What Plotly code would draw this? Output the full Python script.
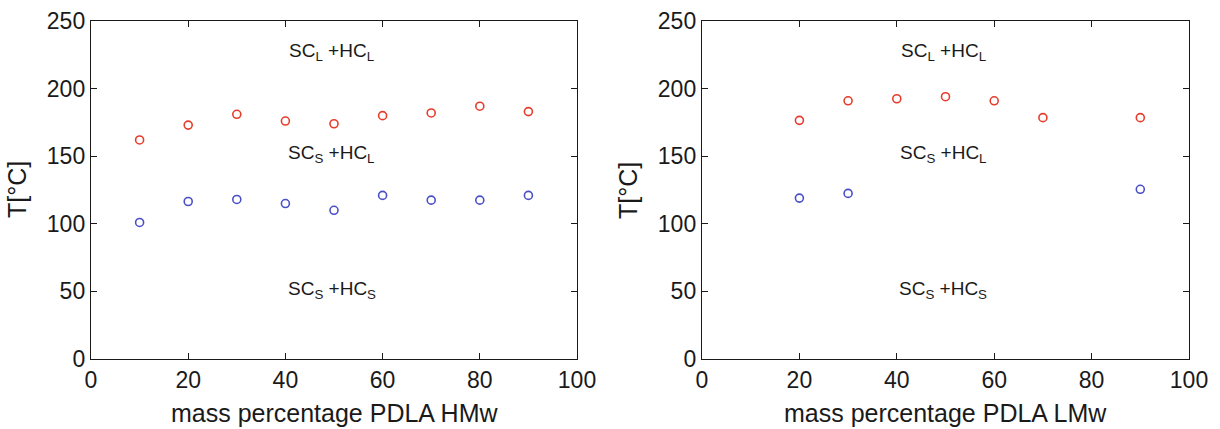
import plotly.graph_objects as go

# Left panel (PDLA HMw)
hmw_x = [10, 20, 30, 40, 50, 60, 70, 80, 90]
hmw_red = [162, 173, 181, 176, 174, 180, 182, 187, 183]
hmw_blue = [101, 116.5, 118, 115, 110, 121, 117.5, 117.5, 121]

# Right panel (PDLA LMw)
lmw_red_x = [20, 30, 40, 50, 60, 70, 90]
lmw_red = [176.5, 191, 192.5, 194, 191, 178.5, 178.5]
lmw_blue_x = [20, 30, 90]
lmw_blue = [119, 122.5, 125.5]

x_ticks = [0, 20, 40, 60, 80, 100]
y_ticks = [0, 50, 100, 150, 200, 250]
x_titles = ["mass percentage PDLA HMw", "mass percentage PDLA LMw"]
y_title = "T[°C]"
labels = ["SC<sub>L</sub> +HC<sub>L</sub>", "SC<sub>S</sub> +HC<sub>L</sub>", "SC<sub>S</sub> +HC<sub>S</sub>"]
label_y = [227, 152, 51]

RED = "#e63c2c"
BLUE = "#4a4fc8"
INK = "#1a1a1a"
FONT = "Liberation Sans, Arial, sans-serif"

fig = go.Figure()

def marker(color):
    return dict(symbol="circle-open", size=8, color=color, line=dict(width=1.6, color=color))

fig.add_trace(go.Scatter(x=hmw_x, y=hmw_red, mode="markers", marker=marker(RED), xaxis="x", yaxis="y", showlegend=False))
fig.add_trace(go.Scatter(x=hmw_x, y=hmw_blue, mode="markers", marker=marker(BLUE), xaxis="x", yaxis="y", showlegend=False))
fig.add_trace(go.Scatter(x=lmw_red_x, y=lmw_red, mode="markers", marker=marker(RED), xaxis="x2", yaxis="y2", showlegend=False))
fig.add_trace(go.Scatter(x=lmw_blue_x, y=lmw_blue, mode="markers", marker=marker(BLUE), xaxis="x2", yaxis="y2", showlegend=False))

ax_common = dict(
    showgrid=False, zeroline=False, showline=True, linecolor=INK, linewidth=1.4,
    mirror="ticks", ticks="inside", ticklen=6, tickwidth=1.2, tickcolor=INK,
    tickfont=dict(family=FONT, size=23, color=INK), automargin=False,
)

dom_left = [91 / 1220, 577 / 1220]
dom_right = [702 / 1220, 1189 / 1220]
ydom = [(429 - 359) / 429, (429 - 21) / 429]

fig.update_layout(
    width=1220, height=429,
    margin=dict(l=0, r=0, t=0, b=0, autoexpand=False),
    paper_bgcolor="white", plot_bgcolor="white",
    xaxis=dict(domain=dom_left, range=[0, 100], tickvals=x_ticks, anchor="y", **ax_common),
    yaxis=dict(domain=ydom, range=[0, 250], tickvals=y_ticks, anchor="x", **ax_common),
    xaxis2=dict(domain=dom_right, range=[0, 100], tickvals=x_ticks, anchor="y2", **ax_common),
    yaxis2=dict(domain=ydom, range=[0, 250], tickvals=y_ticks, anchor="x2", **ax_common),
)

# Region labels
for xr, yr in [("x", "y"), ("x2", "y2")]:
    for txt, yv in zip(labels, label_y):
        fig.add_annotation(x=49.5, y=yv, xref=xr, yref=yr, text=txt, showarrow=False,
                           font=dict(family=FONT, size=19, color=INK))

# Axis titles
for dom, xt in zip([dom_left, dom_right], x_titles):
    cx = (dom[0] + dom[1]) / 2
    fig.add_annotation(x=cx, y=(429 - 413) / 429, xref="paper", yref="paper", text=xt, showarrow=False,
                       xanchor="center", yanchor="middle", font=dict(family=FONT, size=25, color=INK))
    fig.add_annotation(x=dom[0] - 74 / 1220, y=(429 - 190) / 429, xref="paper", yref="paper", text=y_title,
                       showarrow=False, textangle=-90, xanchor="center", yanchor="middle",
                       font=dict(family=FONT, size=25, color=INK))

fig.write_html("out.html")
